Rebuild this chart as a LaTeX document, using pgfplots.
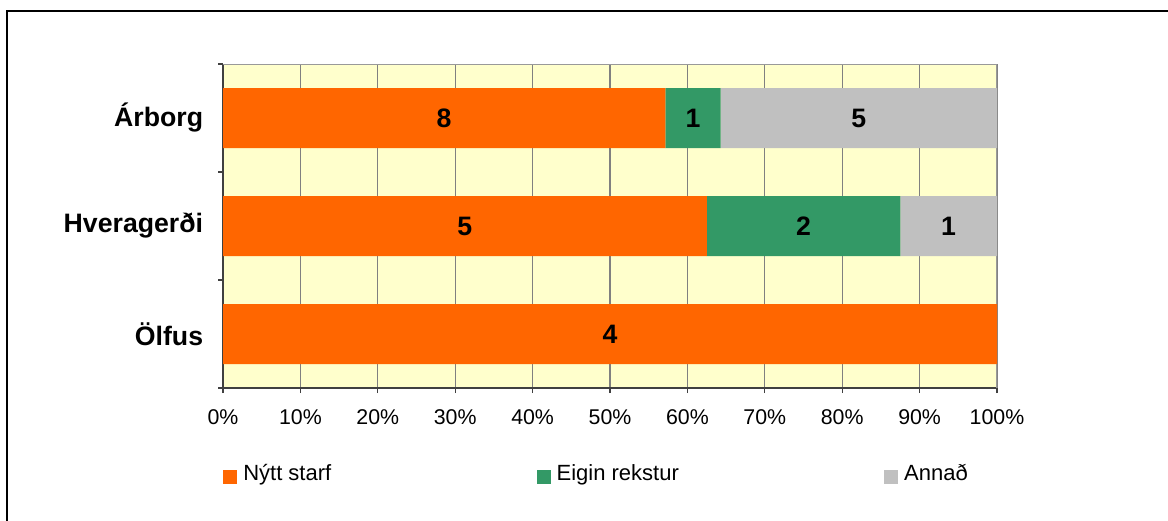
\documentclass[border=0pt]{standalone}
\usepackage{pgfplots}
\pgfplotsset{compat=1.18}
\usepackage{pgfplotstable}
\usepackage{fontspec}
\setmainfont{Liberation Sans}
\definecolor{cOrange}{HTML}{FF6600}
\definecolor{cGreen}{HTML}{339966}
\definecolor{cGray}{HTML}{C0C0C0}
\definecolor{cBg}{HTML}{FFFFCC}
\definecolor{cGrid}{HTML}{808080}

% shares in percent (counts: Árborg 8/1/5, Hveragerði 5/2/1, Ölfus 4/0/0)
\pgfplotstableread{
y nytt eigin annad
0 57.142857 7.142857 35.714286
1 62.5 25 12.5
2 100 0 0
}\shares
% label positions (segment centres) and counts
\pgfplotstableread{
y x n
0 28.571429 8
0 60.714286 1
0 82.142857 5
1 31.25 5
1 75 2
1 93.75 1
2 50 4
}\labels

\begin{document}
\begin{tikzpicture}[x=1pt,y=1pt]
\useasboundingbox (0,0) rectangle (876,390.75);
\draw[line width=1.5pt] (5.25,-2) -- (5.25,382.5) -- (878,382.5);
\begin{axis}[
  at={(167.25pt,99.75pt)}, anchor=south west,
  scale only axis, width=580.5pt, height=243pt,
  xbar stacked, bar width=45pt,
  xmin=0, xmax=100, ymin=-0.5, ymax=2.5, y dir=reverse,
  axis x line*=bottom, axis y line*=left,
  axis line style={draw=black!75, line width=1.2pt},
  axis background/.style={fill=cBg},
  xmajorgrids, major grid style={draw=cGrid, line width=0.9pt},
  tick align=outside, major tick length=3.75pt,
  tick style={draw=black!75, line width=0.9pt},
  xtick={0,10,...,100},
  xticklabels={0\%,10\%,20\%,30\%,40\%,50\%,60\%,70\%,80\%,90\%,100\%},
  xticklabel style={font=\fontsize{16}{18}\selectfont, inner sep=0pt, yshift=-12pt},
  ytick={-0.5,0.5,1.5,2.5}, yticklabels={},
  extra y ticks={0,1,2},
  extra y tick labels={Árborg,Hveragerði,Ölfus},
  extra y tick style={tick style={draw=none},
    yticklabel style={font=\bfseries\fontsize{20}{22}\selectfont, inner sep=0pt, xshift=-11pt}},
  legend style={at={(0,-0.2685)}, anchor=west, draw=none, fill=none, inner sep=0pt,
    font=\fontsize{16.5}{18}\selectfont,
    nodes={text height=12pt, text depth=3.5pt},
    /tikz/every even column/.append style={column sep=152pt}},
  legend cell align=left,
  legend columns=3,
  legend image code/.code={\fill[#1] (0pt,-6.75pt) rectangle (10.5pt,3.75pt); \path (13pt,0pt);},
]
\addplot[fill=cOrange, draw=none] table[x=nytt, y=y] {\shares};
\addlegendentry{Nýtt starf}
\addplot[fill=cGreen, draw=none] table[x=eigin, y=y] {\shares};
\addlegendentry{Eigin rekstur}
\addplot[fill=cGray, draw=none] table[x=annad, y=y] {\shares};
\addlegendentry{Annað}
\draw[draw=black!40, line width=1.2pt] (rel axis cs:0,1) -- (rel axis cs:1,1) -- (rel axis cs:1,0);
\end{axis}
\begin{axis}[
  at={(167.25pt,99.75pt)}, anchor=south west,
  scale only axis, width=580.5pt, height=243pt,
  xmin=0, xmax=100, ymin=-0.5, ymax=2.5, y dir=reverse,
  hide axis,
]
\addplot[only marks, mark=*, mark size=0pt, mark options={draw=none, fill=none},
  point meta=explicit symbolic, nodes near coords,
  every node near coord/.style={anchor=center, font=\bfseries\fontsize{20}{22}\selectfont, text=black}]
  table[x=x, y=y, meta=n] {\labels};
\end{axis}
\end{tikzpicture}
\end{document}
